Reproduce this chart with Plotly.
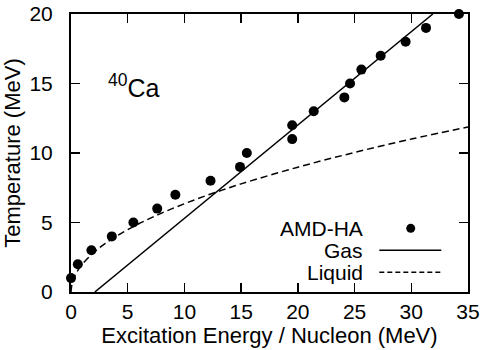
import plotly.graph_objects as go

# AMD-HA simulation points
amd_energy = [0, 0.6, 1.8, 3.6, 5.5, 7.6, 9.2, 12.3, 14.9, 15.5, 19.5, 19.5,
              21.4, 24.1, 24.6, 25.6, 27.3, 29.5, 31.3, 34.2]
amd_temp = [1, 2, 3, 4, 5, 6, 7, 8, 9, 10, 12, 11, 13, 14, 15, 16, 17, 18, 19, 20]

# Gas line (read endpoints)
gas_energy = [2.1, 31.9]
gas_temp = [0, 20]

# Liquid curve
liq_energy = [0, 0.1, 0.25, 0.5, 1, 2, 3, 5, 7.5, 10, 12.5, 15, 20, 25, 30, 35]
liq_temp = [0, 0.64, 1.0, 1.42, 2.0, 2.84, 3.48, 4.49, 5.5, 6.35, 7.1, 7.78,
            8.98, 10.04, 11.0, 11.87]

x_ticks = [0, 5, 10, 15, 20, 25, 30, 35]
y_ticks = [0, 5, 10, 15, 20]

FONT = "Liberation Sans, Arial, sans-serif"

fig = go.Figure()
fig.add_trace(go.Scatter(x=liq_energy, y=liq_temp, mode="lines", line_shape="spline",
                         line=dict(color="black", width=1.5, dash="7px,4px"),
                         showlegend=False, name="Liquid"))
fig.add_trace(go.Scatter(x=gas_energy, y=gas_temp, mode="lines",
                         line=dict(color="black", width=1.5),
                         showlegend=False, name="Gas"))
fig.add_trace(go.Scatter(x=amd_energy, y=amd_temp, mode="markers",
                         marker=dict(color="black", size=10),
                         showlegend=False, name="AMD-HA", cliponaxis=False))

axis_common = dict(showgrid=False, zeroline=False, showline=True, linecolor="black",
                   linewidth=2, mirror="ticks", ticks="inside", ticklen=9,
                   tickwidth=1.5, tickcolor="black", automargin=False,
                   ticklabeloverflow="allow",
                   tickfont=dict(family=FONT, size=21, color="black"))

fig.update_xaxes(range=[0, 35], tickvals=x_ticks, ticktext=[str(v) for v in x_ticks],
                 ticklabelstandoff=0,
                 title=dict(text="Excitation Energy / Nucleon (MeV)",
                            font=dict(family=FONT, size=22, color="black"), standoff=0),
                 **axis_common)
fig.update_yaxes(range=[0, 20], tickvals=y_ticks, ticktext=[str(v) for v in y_ticks],
                 ticklabelstandoff=12,
                 title=dict(text="Temperature (MeV)",
                            font=dict(family=FONT, size=22, color="black"), standoff=4),
                 **axis_common)

# legend built from annotations and paper-space keys
leg_x_text = 0.7406
rows = [("AMD-HA", 0.229), ("Gas", 0.150), ("Liquid", 0.0709)]
annotations = []
for label, yy in rows:
    annotations.append(dict(x=leg_x_text, y=yy, xref="paper", yref="paper", text=label,
                            showarrow=False, xanchor="right", yanchor="middle",
                            font=dict(family=FONT, size=21, color="black")))
annotations.append(dict(x=0.088, y=0.74, xref="paper", yref="paper",
                        text="<sup>40</sup>Ca", showarrow=False, xanchor="left",
                        yanchor="middle", font=dict(family=FONT, size=25, color="black")))

shapes = [
    dict(type="circle", xref="paper", yref="paper", x0=0.8557 - 0.0113, x1=0.8557 + 0.0113,
         y0=0.229 - 0.0162, y1=0.229 + 0.0162, fillcolor="black", line=dict(width=0)),
    dict(type="line", xref="paper", yref="paper", x0=0.7766, x1=0.9327, y0=0.150, y1=0.150,
         line=dict(color="black", width=1.5)),
    dict(type="line", xref="paper", yref="paper", x0=0.7766, x1=0.9327, y0=0.0709, y1=0.0709,
         line=dict(color="black", width=1.5, dash="5px,3px")),
]

fig.update_layout(width=481, height=350, margin=dict(l=71, r=13, t=14, b=58),
                  plot_bgcolor="white", paper_bgcolor="white",
                  annotations=annotations, shapes=shapes, hovermode=False,
                  font=dict(family=FONT, color="black"))

# remove the browser's default 8px body margin so the figure fills the window
fig.write_html("out.html", config={"displayModeBar": False, "staticPlot": True},
               post_script="document.body.style.margin='0px';document.body.style.overflow='hidden';")
